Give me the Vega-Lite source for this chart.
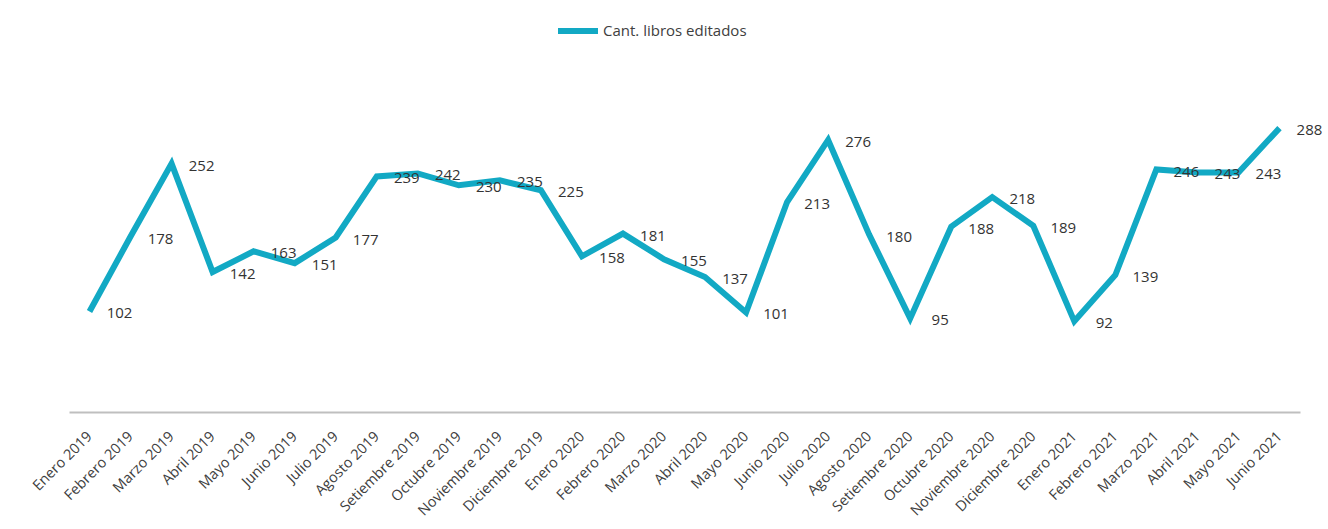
{
  "$schema": "https://vega.github.io/schema/vega-lite/v6.json",
  "width": 1231,
  "height": 345,
  "autosize": {"type": "none"},
  "padding": {"left": 69, "top": 67, "right": 28, "bottom": 117},
  "background": "white",
  "config": {"view": {"stroke": null}, "font": "Open Sans"},
  "data": {"values": [
    {"mes": "Enero 2019", "valor": 102},
    {"mes": "Febrero 2019", "valor": 178},
    {"mes": "Marzo 2019", "valor": 252},
    {"mes": "Abril 2019", "valor": 142},
    {"mes": "Mayo 2019", "valor": 163},
    {"mes": "Junio 2019", "valor": 151},
    {"mes": "Julio 2019", "valor": 177},
    {"mes": "Agosto 2019", "valor": 239},
    {"mes": "Setiembre 2019", "valor": 242},
    {"mes": "Octubre 2019", "valor": 230},
    {"mes": "Noviembre 2019", "valor": 235},
    {"mes": "Diciembre 2019", "valor": 225},
    {"mes": "Enero 2020", "valor": 158},
    {"mes": "Febrero 2020", "valor": 181},
    {"mes": "Marzo 2020", "valor": 155},
    {"mes": "Abril 2020", "valor": 137},
    {"mes": "Mayo 2020", "valor": 101},
    {"mes": "Junio 2020", "valor": 213},
    {"mes": "Julio 2020", "valor": 276},
    {"mes": "Agosto 2020", "valor": 180},
    {"mes": "Setiembre 2020", "valor": 95},
    {"mes": "Octubre 2020", "valor": 188},
    {"mes": "Noviembre 2020", "valor": 218},
    {"mes": "Diciembre 2020", "valor": 189},
    {"mes": "Enero 2021", "valor": 92},
    {"mes": "Febrero 2021", "valor": 139},
    {"mes": "Marzo 2021", "valor": 246},
    {"mes": "Abril 2021", "valor": 243},
    {"mes": "Mayo 2021", "valor": 243},
    {"mes": "Junio 2021", "valor": 288}
  ]},
  "encoding": {
    "x": {
      "field": "mes", "type": "ordinal", "sort": null,
      "scale": {"type": "point", "padding": 0.5},
      "axis": {
        "title": null, "labelAngle": -45, "labelAlign": "right", "labelBaseline": "middle",
        "labelFontSize": 14.5, "labelColor": "#404040", "labelFont": "Open Sans",
        "ticks": false, "labelPadding": 22, "domainColor": "#BFBFBF", "domainWidth": 2,
        "grid": false
      }
    },
    "y": {
      "field": "valor", "type": "quantitative",
      "scale": {"domain": [0, 350]},
      "axis": null
    }
  },
  "layer": [
    {
      "mark": {"type": "line", "strokeWidth": 6, "color": "#12A9C4", "strokeJoin": "miter"},
      "encoding": {
        "color": {
          "datum": "Cant. libros editados",
          "scale": {"range": ["#12A9C4"]},
          "legend": {
            "title": null, "orient": "none", "legendX": 486, "legendY": -59,
            "symbolType": "stroke", "symbolSize": 1600, "symbolStrokeWidth": 6,
            "labelFontSize": 15, "labelColor": "#404040", "labelFont": "Open Sans",
            "labelOffset": 2
          }
        }
      }
    },
    {
      "mark": {"type": "text", "dx": 30, "dy": 2, "fontSize": 15, "color": "#333333", "font": "Open Sans"},
      "encoding": {"text": {"field": "valor", "type": "quantitative"}}
    }
  ]
}
